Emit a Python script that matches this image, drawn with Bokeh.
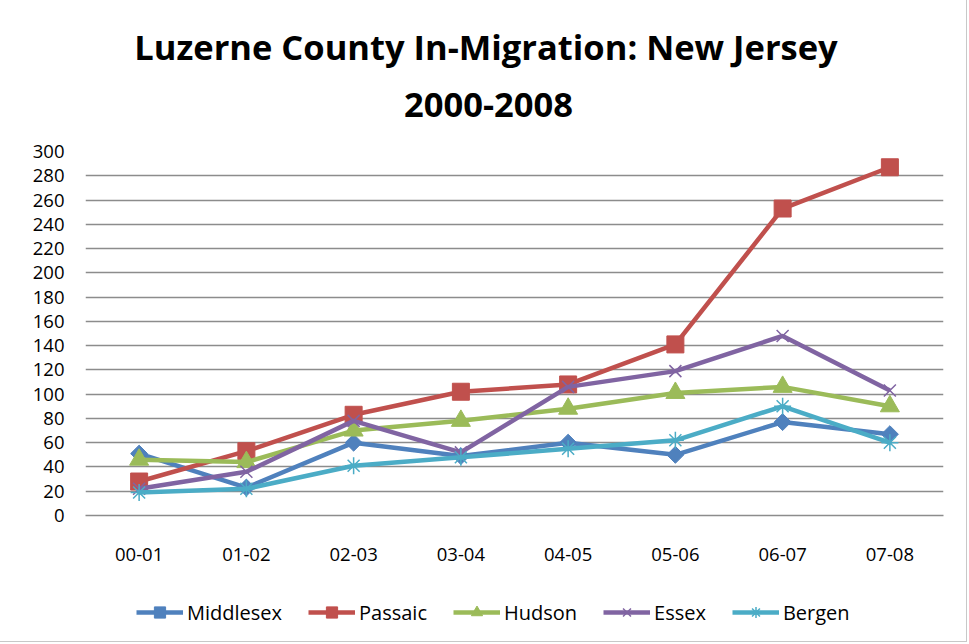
import math
from bokeh.plotting import figure
from bokeh.layouts import column
from bokeh.models import Legend, LegendItem, FactorRange, Range1d, FixedTicker, Label
from bokeh.embed import file_html
from bokeh.resources import INLINE

categories = ["00-01", "01-02", "02-03", "03-04", "04-05", "05-06", "06-07", "07-08"]
middlesex = [51, 23, 60, 49, 60, 50, 77, 67]
passaic = [28, 53, 83, 102, 108, 141, 253, 287]
hudson = [46, 44, 70, 78, 88, 101, 106, 90]
essex = [22, 36, 78, 52, 106, 119, 148, 103]
bergen = [19, 22, 41, 48, 55, 62, 90, 60]
y_ticks = list(range(0, 301, 20))
title_lines = ["Luzerne County In-Migration: New Jersey", "2000-2008"]

series = [
    ("Middlesex", middlesex, "#4F81BD", "square", 12, 0, math.pi / 4),
    ("Passaic", passaic, "#C0504D", "square", 17, 0, 0),
    ("Hudson", hudson, "#9BBB59", "triangle", 19, 0, 0),
    ("Essex", essex, "#8064A2", "x", 17, 1.5, 0),
    ("Bergen", bergen, "#4BACC6", "asterisk", 17, 1.5, 0),
]

FONT = "Open Sans"
W = 966
TOP_H = 136
LEG_H = 46


def blank(height, y_range):
    f = figure(width=W, height=height, x_range=Range1d(0, 1), y_range=y_range,
               output_backend="svg", toolbar_location=None,
               x_axis_location=None, y_axis_location=None,
               min_border=0, min_border_left=0, min_border_right=0,
               min_border_top=0, min_border_bottom=0)
    f.title = None
    f.grid.visible = False
    f.outline_line_color = None
    f.background_fill_color = "white"
    f.border_fill_color = "white"
    return f


# title block
pt = blank(TOP_H, Range1d(0, 1))
pt.add_layout(Label(x=400.5, y=90, x_units="screen", y_units="screen",
                    text=title_lines[0], text_align="center", text_baseline="alphabetic",
                    text_font=FONT, text_font_style="bold", text_font_size="34.5px",
                    text_color="black"))
pt.add_layout(Label(x=403, y=32, x_units="screen", y_units="screen",
                    text=title_lines[1], text_align="center", text_baseline="alphabetic",
                    text_font=FONT, text_font_style="bold", text_font_size="34.5px",
                    text_color="black"))

# main chart
p = figure(frame_width=858, frame_height=364,
           x_range=FactorRange(*categories, range_padding=0),
           y_range=Range1d(0, 300), output_backend="svg", toolbar_location=None,
           min_border_left=85, min_border_right=W - 943, min_border_top=151 - TOP_H,
           min_border_bottom=80)
p.title = None
p.outline_line_color = None
p.background_fill_color = "white"
p.border_fill_color = "white"

p.xgrid.grid_line_color = None
p.ygrid.grid_line_color = "#8c8c8c"
p.ygrid.grid_line_width = 1.4
p.yaxis.ticker = FixedTicker(ticks=y_ticks)
p.yaxis.axis_line_color = None
p.yaxis.major_tick_line_color = None
p.yaxis.minor_tick_line_color = None
p.yaxis.major_tick_out = 0
p.yaxis.major_tick_in = 0
p.yaxis.major_label_standoff = 21
p.xaxis.axis_line_color = "#8c8c8c"
p.xaxis.axis_line_width = 1.4
p.xaxis.major_tick_line_color = None
p.xaxis.major_tick_out = 0
p.xaxis.major_tick_in = 0
p.xaxis.major_label_standoff = 32
for ax in (p.xaxis, p.yaxis):
    ax.major_label_text_font = FONT
    ax.major_label_text_font_size = "18.5px"
    ax.major_label_text_color = "black"

# legend block (its own renderers are kept outside its visible range; only the key shows)
pl = blank(LEG_H, Range1d(1000, 1001))
items = []
for name, vals, color, marker, size, mlw, ang in series:
    xs = list(range(len(vals)))
    p.line(categories, vals, line_color=color, line_width=4.5)
    if mlw:
        p.scatter(categories, vals, marker=marker, size=size, line_color=color,
                  line_width=mlw, fill_color=None)
        k2 = pl.scatter(xs, vals, marker=marker, size=size, line_color=color,
                        line_width=mlw, fill_color=None)
    else:
        p.scatter(categories, vals, marker=marker, size=size, fill_color=color,
                  line_color=color, line_width=1, angle=ang)
        k2 = pl.scatter(xs, vals, marker=marker, size=size, fill_color=color,
                        line_color=color, line_width=1, angle=ang)
    k1 = pl.line(xs, vals, line_color=color, line_width=4.5)
    items.append(LegendItem(label=name, renderers=[k1, k2]))

legend = Legend(items=items, orientation="horizontal", location=(51, 15),
                glyph_width=47, glyph_height=28, label_standoff=4, spacing=26,
                padding=0, margin=0, border_line_color=None, background_fill_alpha=0,
                label_text_font=FONT, label_text_font_size="20px",
                label_text_color="black")
pl.add_layout(legend, "center")

layout = column(pt, p, pl, spacing=0, styles={"outline": "1px solid #c8c8c8"})
open("out.html", "w").write(file_html(layout, INLINE))
